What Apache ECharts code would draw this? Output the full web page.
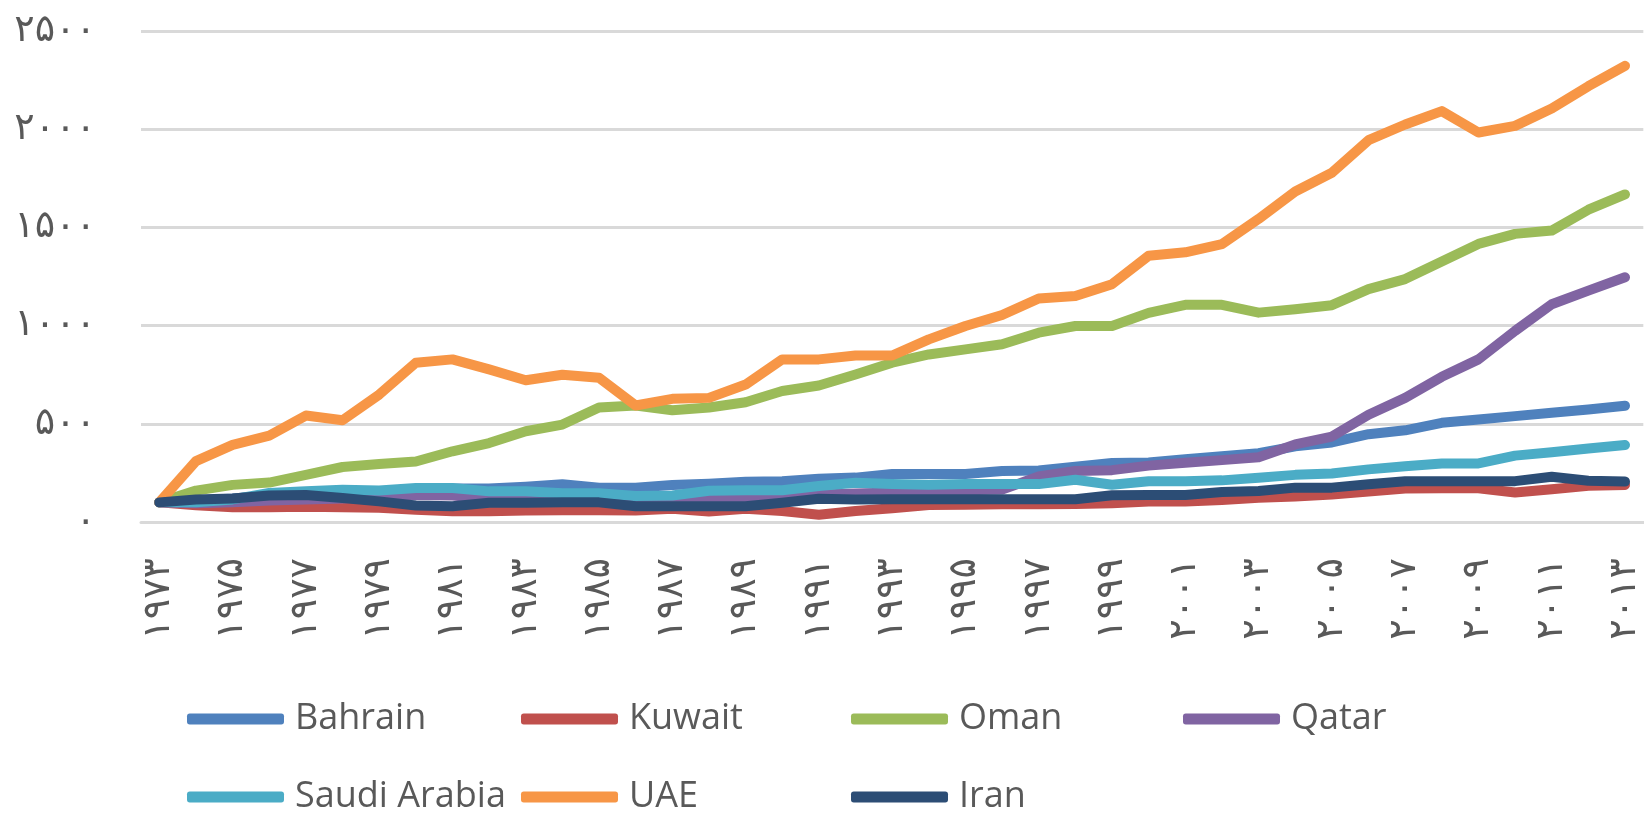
<!DOCTYPE html>
<html>
<head>
<meta charset="utf-8">
<title>GCC index</title>
<script src="https://cdn.jsdelivr.net/npm/echarts@6/dist/echarts.min.js"></script>
<style>
  html, body { margin: 0; padding: 0; background: #fff; }
  #chart { width: 1644px; height: 814px; }
</style>
</head>
<body>
<div id="chart"></div>
<script>
// years 1973..2013, index 1973 = 100
var years = [1973, 1974, 1975, 1976, 1977, 1978, 1979, 1980, 1981, 1982,
  1983, 1984, 1985, 1986, 1987, 1988, 1989, 1990, 1991, 1992,
  1993, 1994, 1995, 1996, 1997, 1998, 1999, 2000, 2001, 2002,
  2003, 2004, 2005, 2006, 2007, 2008, 2009, 2010, 2011, 2012, 2013];

var bahrain = [100, 110, 120, 135, 145, 150, 155, 165, 170, 170,
  180, 192, 175, 175, 188, 195, 205, 207, 220, 226,
  245, 245, 244, 260, 262, 282, 300, 303, 320, 335,
  350, 385, 405, 447, 467, 505, 522, 539, 556, 573, 592];
var kuwait = [100, 85, 75, 75, 78, 75, 72, 62, 55, 55,
  58, 60, 60, 58, 68, 53, 68, 56, 37, 56,
  70, 87, 88, 90, 90, 92, 95, 104, 104, 112,
  124, 130, 140, 155, 170, 172, 172, 150, 167, 184, 189];
var oman = [100, 160, 189, 201, 240, 280, 295, 308, 360, 402,
  462, 496, 583, 593, 569, 583, 610, 667, 695, 751,
  811, 853, 879, 905, 964, 998, 998, 1065, 1106, 1106,
  1066, 1083, 1104, 1186, 1237, 1326, 1416, 1467, 1484, 1590, 1668];
var qatar = [100, 95, 100, 110, 115, 120, 130, 138, 135, 120,
  115, 110, 108, 105, 110, 118, 120, 130, 140, 145,
  150, 155, 162, 165, 232, 260, 264, 287, 302, 315,
  330, 395, 435, 546, 632, 739, 828, 973, 1109, 1178, 1246];
var saudi = [100, 100, 115, 148, 156, 164, 160, 173, 173, 156,
  156, 146, 146, 132, 135, 159, 162, 162, 183, 200,
  193, 190, 193, 193, 193, 215, 190, 207, 207, 212,
  225, 240, 247, 268, 284, 298, 298, 338, 355, 374, 392];
var uae = [100, 310, 393, 440, 542, 518, 649, 811, 828, 777,
  722, 750, 734, 593, 627, 632, 700, 828, 828, 848,
  848, 930, 998, 1054, 1138, 1151, 1211, 1356, 1373, 1415,
  1543, 1683, 1778, 1944, 2024, 2092, 1983, 2017, 2105, 2219, 2323];
var iran = [100, 115, 120, 135, 137, 122, 105, 84, 80, 98,
  98, 100, 100, 80, 80, 80, 80, 98, 118, 115,
  116, 116, 116, 116, 116, 116, 136, 138, 138, 153,
  158, 175, 175, 192, 208, 208, 208, 208, 230, 210, 206];

var seriesNames = ['Bahrain', 'Kuwait', 'Oman', 'Qatar', 'Saudi Arabia', 'UAE', 'Iran'];
var seriesData = [bahrain, kuwait, oman, qatar, saudi, uae, iran];
var colors = ['#4F81BD', '#C0504D', '#9BBB59', '#8064A2', '#4BACC6', '#F79646', '#2C4D75'];

var yTicks = [0, 500, 1000, 1500, 2000, 2500];
var yTickLabels = ['۰', '۵۰۰', '۱۰۰۰', '۱۵۰۰', '۲۰۰۰', '۲۵۰۰'];

var faDigits = '۰۱۲۳۴۵۶۷۸۹';
function toFa(s) {
  return String(s).replace(/[0-9]/g, function (d) { return faDigits[+d]; });
}

var labelColor = '#595959';
var gridColor = '#D9D9D9';

var chart = echarts.init(document.getElementById('chart'));

var series = seriesNames.map(function (name, i) {
  return {
    name: name,
    type: 'line',
    data: seriesData[i],
    color: colors[i],
    symbol: 'none',
    lineStyle: { width: 10, cap: 'round', join: 'round' }
  };
});

// legend: 4 columns x 2 rows, one legend box per entry so they line up
var colLeft = [187, 521, 851, 1183];
var rowTop = [699, 777];
var legends = seriesNames.map(function (name, i) {
  return {
    left: colLeft[i % 4],
    top: rowTop[Math.floor(i / 4)],
    padding: 0,
    itemWidth: 97,
    itemHeight: 11,
    icon: 'roundRect',
    data: [name],
    textStyle: {
      fontFamily: 'Open Sans',
      fontSize: 36,
      lineHeight: 40,
      color: labelColor,
      padding: [0, 0, 0, 6]
    }
  };
});

chart.setOption({
  backgroundColor: '#fff',
  animation: false,
  grid: { left: 141, right: 0, top: 31, bottom: 292 },
  legend: legends,
  xAxis: {
    type: 'category',
    data: years,
    boundaryGap: true,
    axisLine: { lineStyle: { color: gridColor, width: 3 } },
    axisTick: { show: false },
    axisLabel: {
      interval: 1,
      rotate: 90,
      margin: 36,
      color: labelColor,
      fontFamily: 'DejaVu Sans',
      fontSize: 38,
      formatter: function (v) { return toFa(v); }
    }
  },
  yAxis: {
    type: 'value',
    min: 0,
    max: 2500,
    interval: 500,
    axisLine: { show: false },
    axisTick: { show: false },
    splitLine: { lineStyle: { color: gridColor, width: 3 } },
    axisLabel: {
      margin: 45,
      color: labelColor,
      fontFamily: 'DejaVu Sans',
      fontSize: 38,
      formatter: function (v) {
        var k = yTicks.indexOf(v);
        return k >= 0 ? yTickLabels[k] : toFa(v);
      }
    }
  },
  series: series
});
</script>
</body>
</html>
